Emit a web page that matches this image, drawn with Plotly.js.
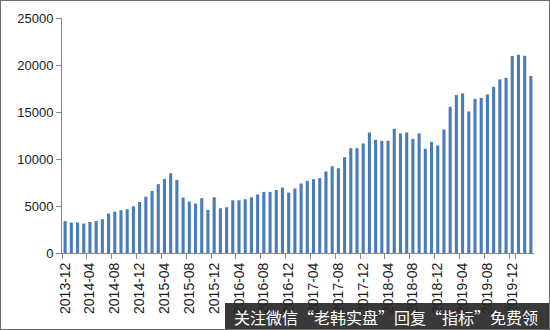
<!DOCTYPE html>
<html>
<head>
<meta charset="utf-8">
<script src="https://cdn.plot.ly/plotly-3.0.1.min.js"></script>
<style>
html,body{margin:0;padding:0;background:#fff;}
#wrap{position:relative;width:550px;height:330px;}
#chart{width:550px;height:330px;}
#frame{position:absolute;left:0;top:0;width:550px;height:330px;box-sizing:border-box;border:1px solid #6b6b6b;pointer-events:none;}
</style>
</head>
<body>
<div id="wrap"><div id="chart"></div><div id="frame"></div></div>
<script>
var months = [
"2013-12",
"2014-01","2014-02","2014-03","2014-04","2014-05","2014-06","2014-07","2014-08","2014-09","2014-10","2014-11","2014-12",
"2015-01","2015-02","2015-03","2015-04","2015-05","2015-06","2015-07","2015-08","2015-09","2015-10","2015-11","2015-12",
"2016-01","2016-02","2016-03","2016-04","2016-05","2016-06","2016-07","2016-08","2016-09","2016-10","2016-11","2016-12",
"2017-01","2017-02","2017-03","2017-04","2017-05","2017-06","2017-07","2017-08","2017-09","2017-10","2017-11","2017-12",
"2018-01","2018-02","2018-03","2018-04","2018-05","2018-06","2018-07","2018-08","2018-09","2018-10","2018-11","2018-12",
"2019-01","2019-02","2019-03","2019-04","2019-05","2019-06","2019-07","2019-08","2019-09","2019-10","2019-11","2019-12",
"2020-01","2020-02","2020-03"
];
var values = [
3400,
3240,3240,3130,3300,3400,3590,4190,4400,4550,4650,4970,5430,
6000,6600,7320,7880,8490,7780,5900,5470,5260,5830,4580,5930,
4760,4870,5610,5610,5720,5930,6220,6500,6500,6710,6960,6430,
6860,7390,7670,7850,7960,8670,9230,9020,10190,11150,11150,11650,
12820,12040,11930,11930,13210,12720,12820,12140,12720,11080,11820,11440,
13140,15550,16800,16980,15060,16400,16510,16870,17680,18470,18640,20950,
21090,20980,18820
];
var tickLabels = ["2013-12","2014-04","2014-08","2014-12","2015-04","2015-08","2015-12","2016-04","2016-08","2016-12","2017-04","2017-08","2017-12","2018-04","2018-08","2018-12","2019-04","2019-08","2019-12"];
var yTicks = [0,5000,10000,15000,20000,25000];
var watermark = "关注微信“老韩实盘”回复“指标”免费领";

var W=550,H=330,L=62,R=16,T=18,B=77;
var pw=W-L-R, ph=H-T-B;
function px(x){return (x-L)/pw;}
function py(y){return (H-B-y)/ph;}

var trace = {
  type:'bar', x:months, y:values,
  marker:{color:'#4A7DB8'},
  hoverinfo:'x+y'
};
var layout = {
  width:W, height:H,
  margin:{l:L,r:R,t:T,b:B,pad:0},
  paper_bgcolor:'#fff', plot_bgcolor:'#fff',
  bargap:0.5,
  showlegend:false,
  font:{family:'Liberation Sans, Arial, sans-serif', size:13, color:'#222'},
  xaxis:{
    type:'category', tickmode:'array', tickvals:tickLabels, ticktext:tickLabels,
    tickson:'boundaries', ticks:'outside', ticklen:5, tickcolor:'#888',
    showline:true, linecolor:'#888', linewidth:1, showgrid:false,
    tickangle:-90, tickfont:{size:14, color:'#1a1a1a'}, automargin:false,
    ticklabelstandoff:3,
    range:[-0.5, months.length-0.5]
  },
  yaxis:{
    range:[0,25000], tickmode:'array', tickvals:yTicks, ticktext:yTicks.map(String),
    ticks:'outside', ticklen:5, tickcolor:'#888',
    showline:true, linecolor:'#888', linewidth:1, showgrid:false, zeroline:false,
    tickfont:{size:13, color:'#1a1a1a'}, automargin:false
  },
  shapes:[{
    type:'rect', xref:'paper', yref:'paper', layer:'above',
    x0:px(225), x1:px(551), y0:py(331), y1:py(303),
    fillcolor:'rgba(35,35,35,0.9)', line:{width:0}
  }],
  annotations:[{
    xref:'paper', yref:'paper', x:px(386), y:py(317), xanchor:'center', yanchor:'middle',
    showarrow:false, text:watermark,
    font:{family:'Noto Sans CJK SC, sans-serif', size:16, color:'#ffffff'}
  }]
};
Plotly.newPlot('chart',[trace],layout,{staticPlot:true,displayModeBar:false});
</script>
</body>
</html>
